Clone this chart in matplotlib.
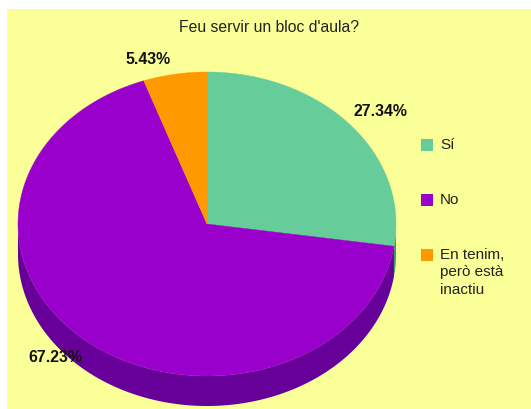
import numpy as np
import matplotlib
matplotlib.use("Agg")
import matplotlib.pyplot as plt
from matplotlib.patches import Polygon, Rectangle

plt.rcParams['font.family'] = ['Liberation Sans', 'DejaVu Sans']

# ---- data ----
title = "Feu servir un bloc d'aula?"
categories = ["Sí", "No", "En tenim,\nperò està\ninactiu"]
values = [27.34, 67.23, 5.43]
pct_labels = ["27.34%", "67.23%", "5.43%"]

# ---- style ----
top_colors = ["#66CC99", "#9900CC", "#FF9900"]
side_colors = ["#3D9A6C", "#660099", "#B36B00"]
bg = "#FAFF98"

W, H = 531, 409
fig = plt.figure(figsize=(W / 100, H / 100), dpi=100)
fig.patch.set_facecolor("white")
ax = fig.add_axes([0, 0, 1, 1])
ax.set_xlim(0, W)
ax.set_ylim(H, 0)
ax.axis("off")

ax.add_patch(Rectangle((7, 9), W - 7, H - 9, facecolor=bg, edgecolor="none", zorder=0))

cx, cy, rx, ry, depth = 207, 224, 189, 152, 30


def pt(theta_deg, dy=0.0):
    t = np.radians(theta_deg)
    return cx + rx * np.cos(t), cy - ry * np.sin(t) + dy


# slice angles: start at 90 deg, clockwise
total = sum(values)
bounds = []
start = 90.0
for v in values:
    end = start - 360.0 * v / total
    bounds.append((end, start))
    start = end

# side (visible lower half: 180..360 deg)
for (a, b), col in zip(bounds, side_colors):
    for shift in (0, 360, -360):
        lo = max(a + shift, 180.0)
        hi = min(b + shift, 360.0)
        if hi > lo:
            th = np.linspace(lo, hi, 200)
            xs, ys = pt(th)
            xb, yb = pt(th[::-1], depth)
            poly = np.column_stack([np.concatenate([xs, xb]), np.concatenate([ys, yb])])
            ax.add_patch(Polygon(poly, closed=True, facecolor=col, edgecolor="none", zorder=1))

# top face
for (a, b), col in zip(bounds, top_colors):
    th = np.linspace(a, b, 300)
    xs, ys = pt(th)
    poly = np.column_stack([np.concatenate([[cx], xs]), np.concatenate([[cy], ys])])
    ax.add_patch(Polygon(poly, closed=True, facecolor=col, edgecolor=col, linewidth=0.3, zorder=2))

# percentage labels
label_pos = [(380, 112), (55, 358), (148, 60)]
for txt, (x, y) in zip(pct_labels, label_pos):
    ax.text(x, y, txt, ha="center", va="center", fontsize=11.4, fontweight="bold",
            color="#111111", zorder=5)

# title
ax.text(269, 28, title, ha="center", va="center", fontsize=11.3, color="#222222")

# legend
leg_rows = [145, 200, 255]
for cat, col, y in zip(categories, top_colors, leg_rows):
    ax.add_patch(Rectangle((421, y - 6), 11.5, 11.5, facecolor=col, edgecolor="none", zorder=3))
    ax.text(440, y - 7, cat, ha="left", va="top", fontsize=11, color="#222222",
            linespacing=1.3)

fig.savefig("out.png", dpi=100, facecolor=fig.get_facecolor())
